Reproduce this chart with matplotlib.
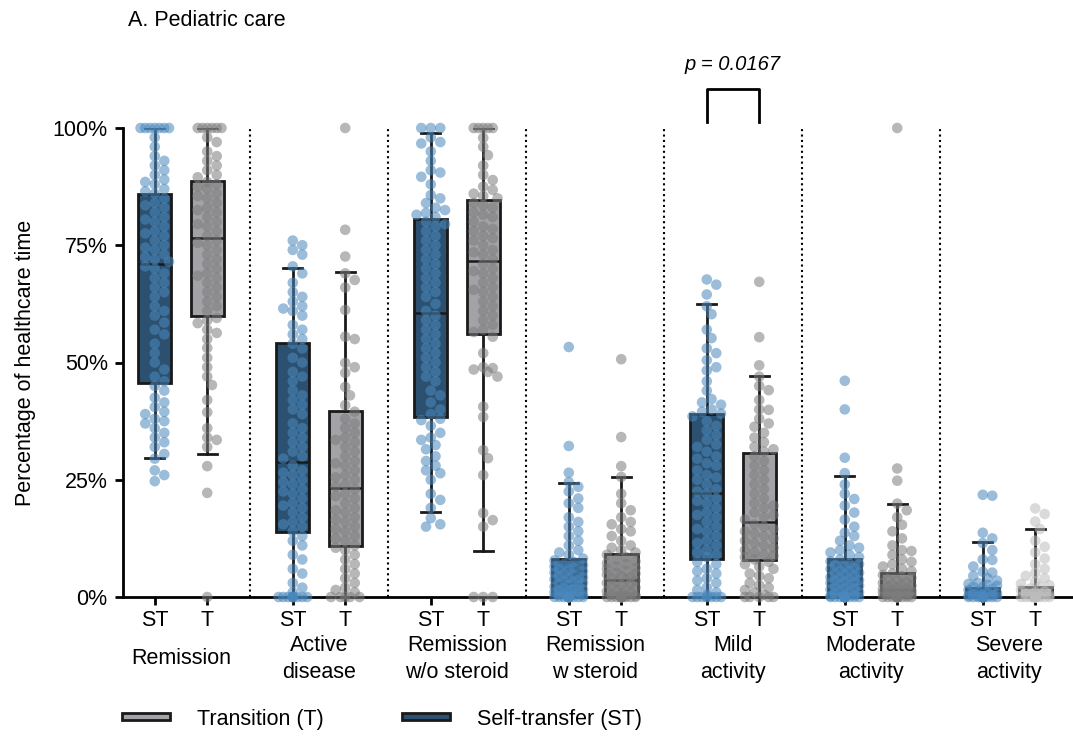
import numpy as np
import matplotlib
matplotlib.use('Agg')
import matplotlib.pyplot as plt
from matplotlib.patches import Patch
from matplotlib.transforms import blended_transform_factory

plt.rcParams['font.family'] = ['Liberation Sans', 'DejaVu Sans']
plt.rcParams['font.size'] = 15.5

categories = ['Remission', 'Active\ndisease', 'Remission\nw/o steroid', 'Remission\nw steroid',
              'Mild\nactivity', 'Moderate\nactivity', 'Severe\nactivity']
groups = ['ST', 'T']

# box statistics (%): q1, median, q3, whisker low, whisker high
st_q1 = [45.6, 13.8, 38.4, 0, 8.0, 0, 0]
st_med = [71.1, 28.7, 60.6, 2.9, 22.2, 3.3, 0]
st_q3 = [85.9, 54.1, 80.7, 8.0, 39.0, 8.2, 2.0]
st_wlo = [29.6, 0, 18.2, 0, 0, 0, 0]
st_whi = [100, 70.1, 98.9, 24.3, 62.4, 25.7, 11.7]

t_q1 = [59.9, 10.9, 56.0, 0, 7.9, 0, 0]
t_med = [76.5, 23.3, 71.6, 3.7, 15.9, 1.5, 0]
t_q3 = [88.8, 39.7, 84.6, 9.1, 30.6, 5.2, 2.1]
t_wlo = [30.4, 0, 9.9, 0, 0, 0, 0]
t_whi = [100, 69.3, 100, 25.6, 47.2, 19.9, 14.5]

# individual patient values (%), estimated from the dots
st_remission = [100]*7 + [98, 96, 94, 93, 92, 91, 90, 89, 88.5, 88, 87, 86.5, 86,
    85, 84, 83.5, 83, 82, 81, 80.5, 80, 79, 78, 77.5, 77, 76, 75, 74.5, 74, 73, 72.5, 72, 71.5,
    70.5, 70, 69, 68, 67, 66, 65, 64, 62, 61, 60, 58.5, 57, 56, 54, 52, 50, 48.5, 47, 46,
    45, 44, 42.5, 41.5, 40.5, 39.5, 39, 38, 37.5, 37, 36, 35, 34, 33, 32, 30.5, 29.5, 27, 26, 24.7]
t_remission = [100]*6 + [98, 97, 95, 94, 93, 92, 91, 90, 89.5,
    88.5, 88, 87.5, 87, 86, 85.5, 85, 84, 83, 82.5, 82, 81, 80, 79.5, 79, 78, 77,
    76, 75.5, 75, 74, 73, 72, 71, 70, 69, 68.5, 68, 67, 66, 65, 64, 63, 62, 61,
    59.5, 59, 58.4, 57, 56.3, 55, 53.1, 51, 49, 47, 45.2, 42, 39.4, 36, 34, 33.5, 32, 27.9, 22.2, 0]

st_active = [76, 75, 74, 73, 70.5, 69, 67, 65, 64, 63, 62, 61.5, 61, 60, 58, 57, 56, 55,
    54, 53, 51, 50, 48, 47, 46, 44, 43, 42, 41, 40, 39, 37, 36, 35, 34, 33, 32, 31, 30, 29.5,
    28, 27, 26.5, 26, 25, 24.5, 24, 23, 22.5, 22, 21, 20, 19.5, 19, 18, 17, 16, 15.5, 15, 14,
    13, 12, 11, 9, 8, 6, 5, 3, 2, 1] + [0]*10
t_active = [100, 78.3, 72.6, 69, 67.6, 66, 61.2, 55.5, 55, 49.9, 49, 47.8, 44.8, 43, 40.9,
    39.5, 38, 37, 36, 35, 34, 33.5, 33, 32, 31, 30, 29, 28.5, 28, 27, 26, 25.5, 25, 24, 23.5,
    23, 22, 21.5, 21, 20, 19, 18.5, 18, 17, 16.5, 16, 15, 14.5, 14, 13, 12.5, 12, 11,
    10.5, 10, 9, 8, 7, 6, 5, 4, 3, 2, 1.5, 1] + [0]*5

st_rem_wo = [100, 100, 100, 98, 97, 96.7, 95, 93, 91, 90.5, 89.6, 88, 85.7, 85, 84, 83, 82.5, 81.9, 81.5, 81,
    80, 79.5, 79, 78, 77, 76, 75, 74, 73, 72, 71, 70, 69, 68, 67, 66, 65, 64, 62.5, 61,
    60, 59, 58, 57, 56, 55, 54, 53, 52, 51, 50, 49, 48, 47, 46, 44, 43, 41.5, 40, 39,
    38, 37.7, 36.5, 35, 34, 33.5, 32.4, 31.5, 30, 29, 28, 27, 26.4, 25, 22, 20.7, 19, 16.8, 15.5, 15]
t_rem_wo = [100]*5 + [97.9, 96, 94.2, 92, 90, 88.9, 87.5, 86.8, 86, 85.5, 85,
    84, 83.5, 83, 82, 81.5, 81, 80, 79, 78.5, 78, 77, 76.5, 76, 75, 74, 73.5, 73, 72,
    71, 70, 69.5, 69, 68, 67, 66, 65.5, 65, 64, 63, 62, 61, 60, 59, 58, 57, 56.5,
    55.5, 52, 49, 48.8, 48.5, 48, 47, 40.6, 38.4, 31.3, 29.6, 26, 17.9, 16.4, 15, 0, 0, 0]

st_rem_w = [53.3, 32.2, 26.5, 24.5, 23.5, 22.5, 21, 20, 19, 17, 16, 15, 14, 13, 12, 11, 10, 9.5, 9, 8.2,
    7.8, 7.5, 7, 6.8, 6.5, 6.2, 6, 5.8, 5.5, 5.2, 5, 4.8, 4.5, 4.2, 4, 3.8, 3.6, 3.4, 3.2, 3.0,
    2.8, 2.6, 2.4, 2.2, 2.0, 1.8, 1.6, 1.5, 1.4, 1.2, 1.0, 0.8, 0.6, 0.5, 0.4, 0.2] + [0]*24
t_rem_w = [50.7, 34.1, 27.9, 25.6, 22, 20, 18.5, 17, 16, 15.5, 14.5, 14, 13, 12, 11, 10.5, 10, 9.5,
    9, 8.5, 8, 7.6, 7.2, 7, 6.5, 6.2, 6, 5.6, 5.2, 5, 4.8, 4.5, 4.2, 4, 3.8,
    3.5, 3.2, 3, 2.8, 2.5, 2.2, 2, 1.8, 1.5, 1.2, 1, 0.8, 0.5, 0.3, 0.2] + [0]*20

st_mild = [67.7, 66.6, 64.5, 62, 60.3, 57, 55.2, 53, 52, 50.5, 49, 48.3, 46, 44, 42.2, 41.5, 41, 40, 39.5, 39.1,
    38.5, 37.5, 36.5, 35.5, 34.5, 33.5, 32.5, 32, 31, 30, 29.5, 28.5, 28, 27, 26, 25.5, 25, 24, 23, 22.5,
    22, 21, 20.5, 20, 19, 18, 17.5, 17, 16, 15, 14.5, 14, 13, 12, 11.5, 11, 10, 9.5, 9, 8.5,
    7.5, 7, 6, 5.5, 5, 4, 3.5, 3, 2, 1.5, 1, 0.5] + [0]*8
t_mild = [67.2, 55.4, 49.4, 47, 45, 44.1, 42, 40, 39.9, 38, 37, 36.3, 35, 34, 33, 32, 31.5, 31,
    30, 29, 28, 27, 26, 25, 24, 23, 22, 21, 20, 19.5, 19, 18, 17.5, 17, 16.5,
    15.5, 15, 14.5, 14, 13.5, 13, 12.5, 12, 11.5, 11, 10.5, 10, 9.5, 9, 8.8, 8.5, 8,
    7.5, 7, 6.5, 6, 5, 4.5, 4, 3, 2.5, 2, 1.5, 1, 0.5] + [0]*5

st_moderate = [46.1, 40, 29.7, 26.4, 24, 22, 20.9, 19.5, 18, 16.5, 15, 13.7, 13, 12, 11, 10.5, 10, 9.5, 9, 8.5,
    8, 7.6, 7.2, 7, 6.8, 6.5, 6.2, 6, 5.7, 5.5, 5.2, 5, 4.8, 4.5, 4.2, 4, 3.8, 3.6, 3.5, 3.4,
    3.2, 3, 2.8, 2.6, 2.4, 2.2, 2, 1.8, 1.6, 1.4, 1.2, 1, 0.8, 0.6, 0.4, 0.2] + [0]*24
t_moderate = [100, 27.4, 24.8, 19.9, 18.5, 17, 15.4, 14, 12.5, 11, 10, 9.8, 9, 8, 7.5, 7, 6.5, 6, 5.5,
    5, 4.7, 4.4, 4.1, 3.8, 3.5, 3.2, 3, 2.8, 2.6, 2.4, 2.2, 2, 1.8, 1.7, 1.6,
    1.4, 1.3, 1.2, 1.1, 1, 0.9, 0.8, 0.7, 0.6, 0.5, 0.4, 0.3] + [0]*23

st_severe = [21.8, 21.6, 13.7, 12.5, 11.5, 10, 8, 7.9, 6.5, 5.4, 5.2, 4.5, 4, 3.5, 3, 2.8, 2.6, 2.4, 2.2, 2.1,
    1.8, 1.5, 1.2, 1, 0.8, 0.6, 0.5, 0.4, 0.3, 0.2] + [0]*50
t_severe = [18.9, 17.7, 16.1, 14.5, 12, 10.7, 9.5, 8.2, 7, 6, 5.1, 4.5, 4, 3.3, 2.8, 2.5, 2.2,
    1.8, 1.5, 1.2, 1, 0.7, 0.5, 0.3] + [0]*46

st_values = [st_remission, st_active, st_rem_wo, st_rem_w, st_mild, st_moderate, st_severe]
t_values = [t_remission, t_active, t_rem_wo, t_rem_w, t_mild, t_moderate, t_severe]

p_label = 'p = 0.0167'

st_box = '#2c5170'
st_dot = '#4a88bd'
t_box = '#a3a2a7'
t_dot = '#7c7c7c'
t_dot_light = '#bdbdbd'

fig = plt.figure(figsize=(10.73, 7.37), dpi=100)
ax = fig.add_axes([123/1073, 1 - 597/737, 950/1073, 469/737])

xpx = 138.0          # pixels per group unit
ypx = 4.69           # pixels per percent
off = 0.19
n = len(categories)
st_pos = np.arange(n) - off
t_pos = np.arange(n) + off


def swarm(vals, d=9.5, maxw=16.0):
    # simple narrow beeswarm in pixel space, overlapping allowed when crowded
    cands = [0]
    k = 1
    while k * d / 2 <= maxw:
        cands += [k * d / 2, -k * d / 2]
        k += 1
    placed = []
    offs = []
    for v in vals:
        y = v * ypx
        best, bestd = 0, -1
        for c in cands:
            md = min([np.hypot(c - px, y - py) for px, py in placed] or [1e9])
            if md >= 0.9 * d:
                best = c
                break
            if md > bestd:
                best, bestd = c, md
        placed.append((best, y))
        offs.append(best / xpx)
    return np.array(offs)


def stats(q1, med, q3, lo, hi):
    return [dict(q1=a, med=b, q3=c, whislo=d, whishi=e, fliers=[])
            for a, b, c, d, e in zip(q1, med, q3, lo, hi)]


common = dict(widths=0.24, patch_artist=True, showfliers=False, manage_ticks=False,
              capwidths=0.14,
              whiskerprops=dict(color='#1a1a1a', lw=2),
              capprops=dict(color='#1a1a1a', lw=2),
              medianprops=dict(color='#1a1a1a', lw=1.8))
ax.bxp(stats(st_q1, st_med, st_q3, st_wlo, st_whi), positions=st_pos,
       boxprops=dict(facecolor=st_box, edgecolor='#1a1a1a', lw=2), **common)
ax.bxp(stats(t_q1, t_med, t_q3, t_wlo, t_whi), positions=t_pos,
       boxprops=dict(facecolor=t_box, edgecolor='#1a1a1a', lw=2), **common)

for i in range(n):
    v = np.array(st_values[i])
    ax.scatter(st_pos[i] + swarm(v), v, s=58, color=st_dot, alpha=0.55,
               edgecolors='none', zorder=4, clip_on=False)
    v = np.array(t_values[i])
    col = t_dot_light if i == n - 1 else t_dot
    ax.scatter(t_pos[i] + swarm(v), v, s=58, color=col, alpha=0.55,
               edgecolors='none', zorder=4, clip_on=False)

for i in range(n - 1):
    ax.axvline(i + 0.5, ymin=0, ymax=1, color='black', lw=1.5, ls=(0, (1, 1.6)), zorder=1)

ax.set_xlim(-(181 - 123) / xpx, (1073 - 181) / xpx)
ax.set_ylim(0, 100)
ax.set_yticks([0, 25, 50, 75, 100], ['0%', '25%', '50%', '75%', '100%'])
ticks = np.ravel(np.column_stack([st_pos, t_pos]))
ax.set_xticks(ticks, groups * n)
ax.tick_params(axis='both', length=6, width=2, color='black', labelsize=15.5)
ax.tick_params(axis='x', pad=3)
ax.tick_params(axis='y', pad=5)
for s in ['top', 'right']:
    ax.spines[s].set_visible(False)
for s in ['left', 'bottom']:
    ax.spines[s].set_linewidth(2)
ax.set_ylabel('Percentage of healthcare time', fontsize=15.5, labelpad=12)

tr = blended_transform_factory(ax.transData, fig.transFigure)
for i, c in enumerate(categories):
    ax.text(i, 1 - 659 / 737, c, transform=tr, ha='center', va='center',
            fontsize=15.5, linespacing=1.35)

# significance bracket over mild activity
y_leg = (597 - 122) / ypx
y_top = (597 - 89) / ypx
ax.plot([st_pos[4], st_pos[4], t_pos[4], t_pos[4]], [y_leg, y_top, y_top, y_leg],
        color='black', lw=2, clip_on=False)
ax.text(4, (597 - 65) / ypx, p_label, ha='center', va='center', fontsize=14.5,
        style='italic', clip_on=False)

fig.text(128 / 1073, 1 - 20 / 737, 'A. Pediatric care', ha='left', va='center', fontsize=15.5)

handles = [Patch(facecolor=t_box, edgecolor='#1a1a1a', lw=2, label='Transition (T)'),
           Patch(facecolor=st_box, edgecolor='#1a1a1a', lw=2, label='Self-transfer (ST)')]
fig.legend(handles=handles, loc='center left', bbox_to_anchor=(122 / 1073, 1 - 719 / 737),
           ncol=2, frameon=False, fontsize=15.5, handlelength=2.25, handleheight=0.1,
           handletextpad=1.25, columnspacing=3.6, borderpad=0, borderaxespad=0)

fig.savefig('out.png', dpi=100)
